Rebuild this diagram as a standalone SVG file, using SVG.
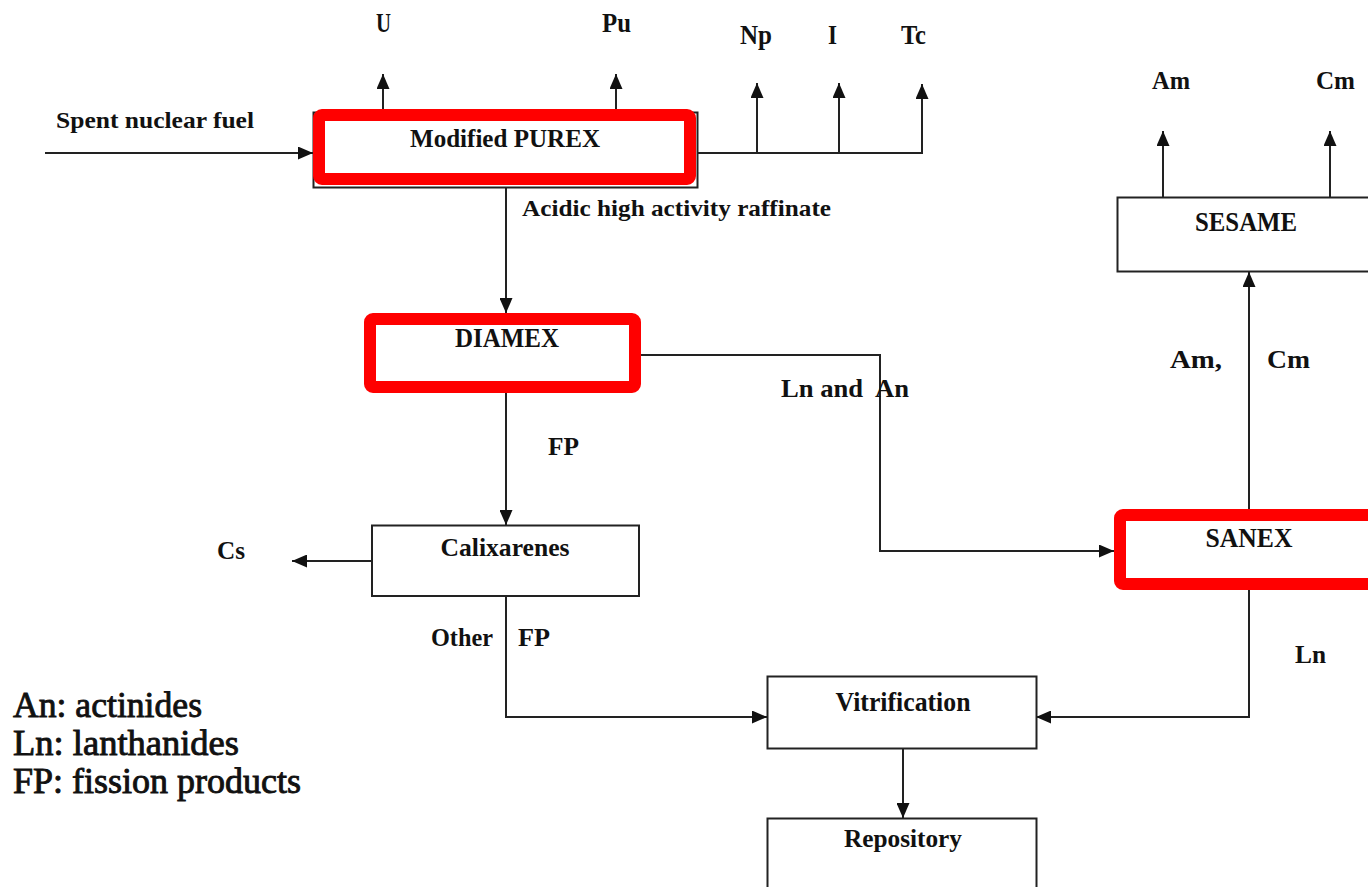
<svg xmlns="http://www.w3.org/2000/svg" width="1368" height="887" viewBox="0 0 1368 887">
<style>
.bg{fill:#fff}
.box{fill:#fff;stroke:#222;stroke-width:2}
.hl{fill:none;stroke:#f00;stroke-width:12}
.lbl{font-family:"Liberation Serif","Times New Roman",serif;font-weight:bold;fill:#111;text-anchor:middle}
.tl{font-family:"Liberation Serif","Times New Roman",serif;font-weight:bold;fill:#111}
.leg{font-family:"Liberation Serif","Times New Roman",serif;font-size:36px;fill:#111;stroke:#111;stroke-width:0.9}
.con{fill:none;stroke:#222;stroke-width:2}
</style>
<defs>
<marker id="arr" markerUnits="userSpaceOnUse" markerWidth="15" markerHeight="13" refX="15" refY="6.5" orient="auto">
<path d="M0,0 L15,6.5 L0,13 Z" fill="#111"/>
</marker>
</defs>
<rect class="bg" x="0" y="0" width="1368" height="887"/>

<g id="connectors">
<path class="con" d="M45,153 H313" marker-end="url(#arr)"/>
<path class="con" d="M383,109 V74" marker-end="url(#arr)"/>
<path class="con" d="M616,109 V74" marker-end="url(#arr)"/>
<path class="con" d="M697,153 H922 V84" marker-end="url(#arr)"/>
<path class="con" d="M757,153 V83" marker-end="url(#arr)"/>
<path class="con" d="M839,153 V83" marker-end="url(#arr)"/>
<path class="con" d="M506,187 V313" marker-end="url(#arr)"/>
<path class="con" d="M641,355 H880 V551 H1114" marker-end="url(#arr)"/>
<path class="con" d="M506,393 V525" marker-end="url(#arr)"/>
<path class="con" d="M372,561 H292" marker-end="url(#arr)"/>
<path class="con" d="M506,596 V717 H767" marker-end="url(#arr)"/>
<path class="con" d="M1249,509 V272" marker-end="url(#arr)"/>
<path class="con" d="M1163,198 V131" marker-end="url(#arr)"/>
<path class="con" d="M1330,198 V131" marker-end="url(#arr)"/>
<path class="con" d="M1249,590 V717 H1036" marker-end="url(#arr)"/>
<path class="con" d="M903,749 V818" marker-end="url(#arr)"/>
</g>

<g id="purex">
<rect class="box" x="313.5" y="112.5" width="384" height="75"/>
<rect class="hl" x="319" y="115" width="371" height="64" rx="3"/>
<text class="lbl" x="505" y="147" font-size="26" textLength="190" lengthAdjust="spacingAndGlyphs">Modified PUREX</text>
</g>

<g id="diamex">
<rect class="hl" x="370" y="319" width="265" height="68" rx="3"/>
<text class="lbl" x="507" y="347" font-size="27" textLength="104" lengthAdjust="spacingAndGlyphs">DIAMEX</text>
</g>

<g id="calixarenes">
<rect class="box" x="372" y="525.5" width="267" height="70.5"/>
<text class="lbl" x="505" y="556" font-size="25" textLength="129" lengthAdjust="spacingAndGlyphs">Calixarenes</text>
</g>

<g id="sesame">
<rect class="box" x="1117.5" y="197.5" width="270" height="74"/>
<text class="lbl" x="1246" y="231" font-size="28" textLength="102" lengthAdjust="spacingAndGlyphs">SESAME</text>
</g>

<g id="sanex">
<rect class="hl" x="1120" y="515" width="270" height="69" rx="3"/>
<text class="lbl" x="1249" y="547" font-size="27" textLength="87" lengthAdjust="spacingAndGlyphs">SANEX</text>
</g>

<g id="vitrification">
<rect class="box" x="767.5" y="676.5" width="269" height="72"/>
<text class="lbl" x="903" y="711" font-size="27" textLength="135" lengthAdjust="spacingAndGlyphs">Vitrification</text>
</g>

<g id="repository">
<rect class="box" x="767.5" y="818.5" width="269" height="80"/>
<text class="lbl" x="903" y="847" font-size="26" textLength="118" lengthAdjust="spacingAndGlyphs">Repository</text>
</g>

<g id="labels">
<text class="tl" x="56" y="128" font-size="24" textLength="198" lengthAdjust="spacingAndGlyphs">Spent nuclear fuel</text>
<text class="tl" x="376" y="32" font-size="28" textLength="15" lengthAdjust="spacingAndGlyphs">U</text>
<text class="tl" x="602" y="32" font-size="28" textLength="29" lengthAdjust="spacingAndGlyphs">Pu</text>
<text class="tl" x="740" y="44" font-size="27" textLength="32" lengthAdjust="spacingAndGlyphs">Np</text>
<text class="tl" x="828" y="44" font-size="27" textLength="9" lengthAdjust="spacingAndGlyphs">I</text>
<text class="tl" x="901" y="44" font-size="27" textLength="25" lengthAdjust="spacingAndGlyphs">Tc</text>
<text class="tl" x="1152" y="89" font-size="26" textLength="38" lengthAdjust="spacingAndGlyphs">Am</text>
<text class="tl" x="1316" y="89" font-size="26" textLength="39" lengthAdjust="spacingAndGlyphs">Cm</text>
<text class="tl" x="522" y="216" font-size="24" textLength="309" lengthAdjust="spacingAndGlyphs">Acidic high activity raffinate</text>
<text class="tl" x="1170" y="368" font-size="26" textLength="52" lengthAdjust="spacingAndGlyphs">Am,</text>
<text class="tl" x="1267" y="368" font-size="26" textLength="43" lengthAdjust="spacingAndGlyphs">Cm</text>
<text class="tl" x="781" y="397" font-size="26" textLength="128" lengthAdjust="spacingAndGlyphs" xml:space="preserve" style="white-space:pre">Ln and  An</text>
<text class="tl" x="548" y="455" font-size="26" textLength="31" lengthAdjust="spacingAndGlyphs">FP</text>
<text class="tl" x="217" y="559" font-size="26" font-weight="normal" textLength="28" lengthAdjust="spacingAndGlyphs">Cs</text>
<text class="tl" x="431" y="646" font-size="25" textLength="62" lengthAdjust="spacingAndGlyphs">Other</text>
<text class="tl" x="518" y="646" font-size="25" textLength="32" lengthAdjust="spacingAndGlyphs">FP</text>
<text class="tl" x="1295" y="663" font-size="26" textLength="31" lengthAdjust="spacingAndGlyphs">Ln</text>
</g>

<g id="legend">
<text class="leg" x="13" y="717" textLength="189" lengthAdjust="spacingAndGlyphs">An: actinides</text>
<text class="leg" x="13" y="755" textLength="226" lengthAdjust="spacingAndGlyphs">Ln: lanthanides</text>
<text class="leg" x="13" y="793" textLength="288" lengthAdjust="spacingAndGlyphs">FP: fission products</text>
</g>
</svg>
